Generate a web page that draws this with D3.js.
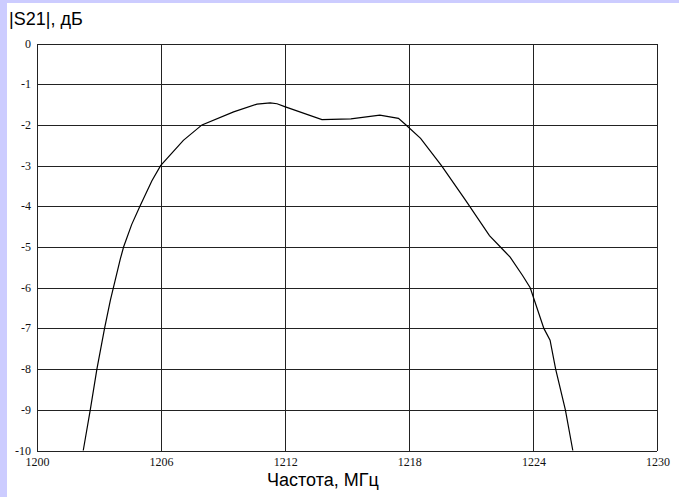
<!DOCTYPE html>
<html>
<head>
<meta charset="utf-8">
<script src="https://cdn.jsdelivr.net/npm/d3@7"></script>
<style>
  html, body { margin: 0; padding: 0; background: #fff; }
  svg { display: block; }
</style>
</head>
<body>
<script>
// Transmission response |S21| of the filter, frequency in MHz, level in dB
const freqMHz = [1202.26, 1202.6, 1202.92, 1203.29, 1203.57, 1204.05, 1204.21, 1204.6, 1205.0, 1205.58,
  1206.0, 1207.1, 1208.0, 1209.53, 1210.66, 1211.3, 1211.63, 1212.0, 1213.8, 1215.2,
  1216.6, 1217.5, 1217.84, 1218.57, 1219.58, 1220.74, 1221.9, 1222.58, 1222.9, 1223.5,
  1223.87, 1224.53, 1224.83, 1225.1, 1225.57, 1225.93];
const s21dB = [-10, -9, -8, -7, -6.31, -5.3, -5.0, -4.45, -4.0, -3.37,
  -3.0, -2.38, -2.0, -1.68, -1.49, -1.46, -1.48, -1.55, -1.87, -1.85,
  -1.76, -1.84, -1.99, -2.33, -3.0, -3.85, -4.72, -5.08, -5.25, -5.7,
  -6.0, -7.0, -7.29, -8.0, -9.0, -10];

const xTicks = [1200, 1206, 1212, 1218, 1224, 1230];
const yTicks = [0, -1, -2, -3, -4, -5, -6, -7, -8, -9, -10];
const xTickLabels = ["1200", "1206", "1212", "1218", "1224", "1230"];
const yTickLabels = ["0", "-1", "-2", "-3", "-4", "-5", "-6", "-7", "-8", "-9", "-10"];

const W = 679, H = 497;
const plot = { left: 36.5, right: 657, top: 43.5, bottom: 450.5 };

const svg = d3.select("body").append("svg").attr("width", W).attr("height", H);

// lavender frame strips on the top and left edges
svg.append("rect").attr("x", 0).attr("y", 0).attr("width", W).attr("height", 3).attr("fill", "#ccccff");
svg.append("rect").attr("x", 0).attr("y", 0).attr("width", 7).attr("height", H).attr("fill", "#ccccff");

const x = d3.scaleLinear().domain([1200, 1230]).range([plot.left, plot.right]);
const y = d3.scaleLinear().domain([-10, 0]).range([plot.bottom, plot.top]);

const grid = svg.append("g").attr("stroke", "#222").attr("stroke-width", 1.2).attr("shape-rendering", "crispEdges");
grid.selectAll("line.v").data(xTicks).join("line")
  .attr("x1", d => Math.round(x(d)) + 0.5).attr("x2", d => Math.round(x(d)) + 0.5)
  .attr("y1", plot.top).attr("y2", plot.bottom);
grid.selectAll("line.h").data(yTicks).join("line")
  .attr("y1", d => Math.round(y(d)) + 0.5).attr("y2", d => Math.round(y(d)) + 0.5)
  .attr("x1", plot.left).attr("x2", plot.right);

// tick labels
const tickFont = "'Liberation Serif', 'Times New Roman', serif";
svg.append("g").selectAll("text").data(xTicks).join("text")
  .attr("x", d => x(d) + 1).attr("y", 466)
  .attr("text-anchor", "middle")
  .attr("font-family", tickFont).attr("font-size", 12).attr("fill", "#111")
  .text((d, i) => xTickLabels[i]);
svg.append("g").selectAll("text").data(yTicks).join("text")
  .attr("x", 31).attr("y", d => y(d) + 4)
  .attr("text-anchor", "end")
  .attr("font-family", tickFont).attr("font-size", 12).attr("fill", "#111")
  .text((d, i) => yTickLabels[i]);

// response curve
const line = d3.line().x(d => x(d[0])).y(d => y(d[1]));
svg.append("path")
  .datum(d3.zip(freqMHz, s21dB))
  .attr("d", line)
  .attr("fill", "none").attr("stroke", "#000").attr("stroke-width", 1.2);

// axis titles
svg.append("text").attr("x", 9).attr("y", 25)
  .attr("font-family", "'Liberation Sans', Arial, sans-serif").attr("font-size", 18).attr("fill", "#000")
  .text("|S21|, дБ");
svg.append("text").attr("x", 267).attr("y", 486)
  .attr("font-family", "'Liberation Sans', Arial, sans-serif").attr("font-size", 18).attr("fill", "#000")
  .text("Частота, МГц");
</script>
</body>
</html>
